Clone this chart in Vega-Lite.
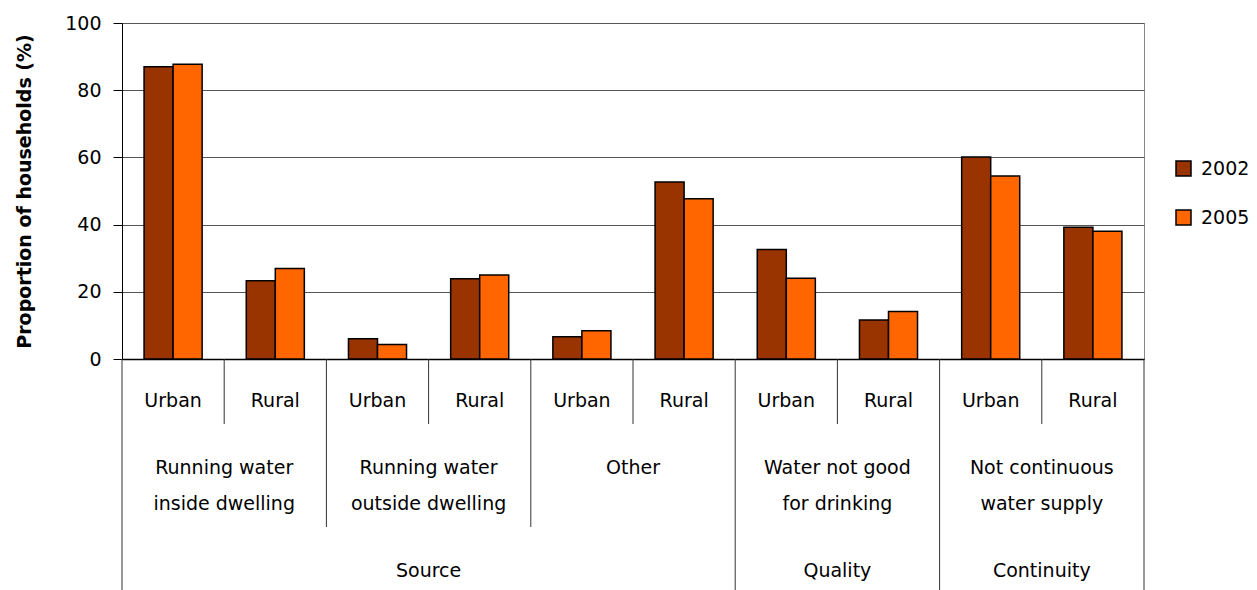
{
  "$schema": "https://vega.github.io/schema/vega-lite/v6.json",
  "padding": {"left": 15, "top": 13, "right": 5, "bottom": 0},
  "background": "white",
  "spacing": 0,
  "bounds": "flush",
  "config": {
    "font": "DejaVu Sans",
    "view": {"stroke": null},
    "concat": {"spacing": 0},
    "text": {"color": "black", "fontSize": 19},
    "rule": {"color": "#333", "strokeWidth": 1}
  },
  "datasets": {
    "bars": [
      {"category": "Running water inside dwelling", "key": "inside-Urban", "area": "Urban", "year": "2002", "value": 87.0},
      {"category": "Running water inside dwelling", "key": "inside-Urban", "area": "Urban", "year": "2005", "value": 87.7},
      {"category": "Running water inside dwelling", "key": "inside-Rural", "area": "Rural", "year": "2002", "value": 23.3},
      {"category": "Running water inside dwelling", "key": "inside-Rural", "area": "Rural", "year": "2005", "value": 26.9},
      {"category": "Running water outside dwelling", "key": "outside-Urban", "area": "Urban", "year": "2002", "value": 6.0},
      {"category": "Running water outside dwelling", "key": "outside-Urban", "area": "Urban", "year": "2005", "value": 4.3},
      {"category": "Running water outside dwelling", "key": "outside-Rural", "area": "Rural", "year": "2002", "value": 23.9},
      {"category": "Running water outside dwelling", "key": "outside-Rural", "area": "Rural", "year": "2005", "value": 25.0},
      {"category": "Other", "key": "other-Urban", "area": "Urban", "year": "2002", "value": 6.6},
      {"category": "Other", "key": "other-Urban", "area": "Urban", "year": "2005", "value": 8.4},
      {"category": "Other", "key": "other-Rural", "area": "Rural", "year": "2002", "value": 52.7},
      {"category": "Other", "key": "other-Rural", "area": "Rural", "year": "2005", "value": 47.7},
      {"category": "Water not good for drinking", "key": "quality-Urban", "area": "Urban", "year": "2002", "value": 32.6},
      {"category": "Water not good for drinking", "key": "quality-Urban", "area": "Urban", "year": "2005", "value": 24.0},
      {"category": "Water not good for drinking", "key": "quality-Rural", "area": "Rural", "year": "2002", "value": 11.6},
      {"category": "Water not good for drinking", "key": "quality-Rural", "area": "Rural", "year": "2005", "value": 14.1},
      {"category": "Not continuous water supply", "key": "continuity-Urban", "area": "Urban", "year": "2002", "value": 60.1},
      {"category": "Not continuous water supply", "key": "continuity-Urban", "area": "Urban", "year": "2005", "value": 54.5},
      {"category": "Not continuous water supply", "key": "continuity-Rural", "area": "Rural", "year": "2002", "value": 39.2},
      {"category": "Not continuous water supply", "key": "continuity-Rural", "area": "Rural", "year": "2005", "value": 38.0}
    ],
    "cats": [
      {"label": "Running water\ninside dwelling", "start": "inside-Urban", "mid": "inside-Rural"},
      {"label": "Running water\noutside dwelling", "start": "outside-Urban", "mid": "outside-Rural"},
      {"label": "Other", "start": "other-Urban", "mid": "other-Rural"},
      {"label": "Water not good\nfor drinking", "start": "quality-Urban", "mid": "quality-Rural"},
      {"label": "Not continuous\nwater supply", "start": "continuity-Urban", "mid": "continuity-Rural"}
    ],
    "groups": [
      {"label": "Source", "start": "inside-Urban", "mid": "outside-Rural"},
      {"label": "Quality", "start": "quality-Urban", "mid": "quality-Rural"},
      {"label": "Continuity", "start": "continuity-Urban", "mid": "continuity-Rural"}
    ],
    "edge": [
      {"key": "continuity-Rural"}
    ]
  },
  "vconcat": [
    {
      "width": 1022,
      "height": 336,
      "data": {"name": "bars"},
      "view": {"stroke": "#888", "strokeWidth": 1},
      "mark": {"type": "bar", "stroke": "black", "strokeWidth": 1.5},
      "encoding": {
        "x": {
          "field": "key", "type": "nominal",
          "scale": {"domain": ["inside-Urban", "inside-Rural", "outside-Urban", "outside-Rural", "other-Urban", "other-Rural", "quality-Urban", "quality-Rural", "continuity-Urban", "continuity-Rural"], "paddingInner": 0, "paddingOuter": 0},
          "axis": {"labels": false, "ticks": false, "title": null, "domainColor": "black", "domainWidth": 1.5}
        },
        "xOffset": {"field": "year", "type": "nominal", "scale": {"paddingInner": 0, "paddingOuter": 0.76}},
        "y": {
          "field": "value", "type": "quantitative",
          "scale": {"domain": [0, 100]},
          "axis": {
            "title": "Proportion of households (%)",
            "values": [0, 20, 40, 60, 80, 100],
            "titleFontSize": 19, "titleFontWeight": "bold", "titleColor": "black", "titlePadding": 30,
            "labelFontSize": 19, "labelColor": "black", "labelPadding": 12,
            "tickSize": 9, "tickColor": "black", "domainColor": "black",
            "gridColor": "#555"
          }
        },
        "color": {
          "field": "year", "type": "nominal",
          "scale": {"domain": ["2002", "2005"], "range": ["#993300", "#FF6600"]},
          "legend": {
            "title": null, "orient": "none", "legendX": 1052, "legendY": 136,
            "symbolType": "square", "symbolSize": 225, "symbolStrokeColor": "black", "symbolStrokeWidth": 1.5,
            "labelFontSize": 19, "labelColor": "black", "rowPadding": 28, "labelOffset": 8
          }
        }
      }
    },
    {
      "width": 1022,
      "height": 65,
      "data": {"name": "bars"},
      "transform": [{"filter": "datum.year == '2002'"}],
      "layer": [
        {
          "mark": {"type": "text", "dy": 9},
          "encoding": {
            "x": {"field": "key", "type": "nominal", "scale": {"domain": ["inside-Urban", "inside-Rural", "outside-Urban", "outside-Rural", "other-Urban", "other-Rural", "quality-Urban", "quality-Rural", "continuity-Urban", "continuity-Rural"], "paddingInner": 0, "paddingOuter": 0}, "axis": null},
            "text": {"field": "area"}
          }
        },
        {
          "mark": "rule",
          "encoding": {
            "x": {"field": "key", "type": "nominal", "bandPosition": 0, "scale": {"domain": ["inside-Urban", "inside-Rural", "outside-Urban", "outside-Rural", "other-Urban", "other-Rural", "quality-Urban", "quality-Rural", "continuity-Urban", "continuity-Rural"], "paddingInner": 0, "paddingOuter": 0}, "axis": null}
          }
        },
        {
          "data": {"name": "edge"},
          "mark": "rule",
          "encoding": {
            "x": {"field": "key", "type": "nominal", "bandPosition": 1, "scale": {"domain": ["inside-Urban", "inside-Rural", "outside-Urban", "outside-Rural", "other-Urban", "other-Rural", "quality-Urban", "quality-Rural", "continuity-Urban", "continuity-Rural"], "paddingInner": 0, "paddingOuter": 0}, "axis": null}
          }
        }
      ]
    },
    {
      "width": 1022,
      "height": 103,
      "layer": [
        {
          "data": {"name": "cats"},
          "mark": {"type": "text", "dy": -8, "lineBreak": "\n", "lineHeight": 36},
          "encoding": {
            "x": {"field": "mid", "type": "nominal", "bandPosition": 0, "scale": {"domain": ["inside-Urban", "inside-Rural", "outside-Urban", "outside-Rural", "other-Urban", "other-Rural", "quality-Urban", "quality-Rural", "continuity-Urban", "continuity-Rural"], "paddingInner": 0, "paddingOuter": 0}, "axis": null},
            "text": {"field": "label"}
          }
        },
        {
          "data": {"name": "cats"},
          "mark": "rule",
          "encoding": {
            "x": {"field": "start", "type": "nominal", "bandPosition": 0, "scale": {"domain": ["inside-Urban", "inside-Rural", "outside-Urban", "outside-Rural", "other-Urban", "other-Rural", "quality-Urban", "quality-Rural", "continuity-Urban", "continuity-Rural"], "paddingInner": 0, "paddingOuter": 0}, "axis": null}
          }
        },
        {
          "data": {"name": "edge"},
          "mark": "rule",
          "encoding": {
            "x": {"field": "key", "type": "nominal", "bandPosition": 1, "scale": {"domain": ["inside-Urban", "inside-Rural", "outside-Urban", "outside-Rural", "other-Urban", "other-Rural", "quality-Urban", "quality-Rural", "continuity-Urban", "continuity-Rural"], "paddingInner": 0, "paddingOuter": 0}, "axis": null}
          }
        }
      ]
    },
    {
      "width": 1022,
      "height": 63,
      "layer": [
        {
          "data": {"name": "groups"},
          "mark": {"type": "text", "dy": 12},
          "encoding": {
            "x": {"field": "mid", "type": "nominal", "bandPosition": 0, "scale": {"domain": ["inside-Urban", "inside-Rural", "outside-Urban", "outside-Rural", "other-Urban", "other-Rural", "quality-Urban", "quality-Rural", "continuity-Urban", "continuity-Rural"], "paddingInner": 0, "paddingOuter": 0}, "axis": null},
            "text": {"field": "label"}
          }
        },
        {
          "data": {"name": "groups"},
          "mark": "rule",
          "encoding": {
            "x": {"field": "start", "type": "nominal", "bandPosition": 0, "scale": {"domain": ["inside-Urban", "inside-Rural", "outside-Urban", "outside-Rural", "other-Urban", "other-Rural", "quality-Urban", "quality-Rural", "continuity-Urban", "continuity-Rural"], "paddingInner": 0, "paddingOuter": 0}, "axis": null}
          }
        },
        {
          "data": {"name": "edge"},
          "mark": "rule",
          "encoding": {
            "x": {"field": "key", "type": "nominal", "bandPosition": 1, "scale": {"domain": ["inside-Urban", "inside-Rural", "outside-Urban", "outside-Rural", "other-Urban", "other-Rural", "quality-Urban", "quality-Rural", "continuity-Urban", "continuity-Rural"], "paddingInner": 0, "paddingOuter": 0}, "axis": null}
          }
        }
      ]
    }
  ]
}
